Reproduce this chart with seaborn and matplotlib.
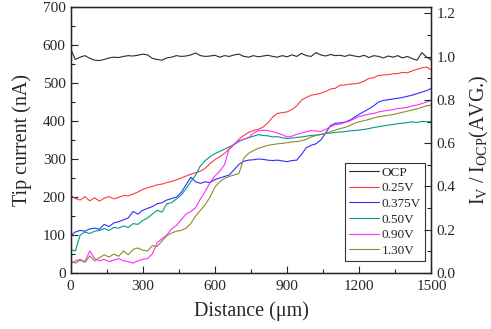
import numpy as np
import pandas as pd
import matplotlib
matplotlib.use("Agg")
import matplotlib.pyplot as plt
import seaborn as sns
from matplotlib.ticker import MultipleLocator

# Distance sampling (um)
distance = np.arange(0, 1501, 20)

# Tip current (nA)
ocp = [590, 562, 568, 572, 565, 560, 559, 562, 566, 568,
       567, 570, 572, 571, 573, 576, 574, 565, 562, 560,
       566, 568, 572, 570, 571, 574, 579, 572, 570, 571,
       573, 568, 572, 570, 574, 576, 570, 568, 572, 569,
       571, 573, 570, 568, 572, 569, 574, 570, 578, 572,
       570, 580, 574, 571, 575, 572, 573, 570, 574, 571,
       569, 573, 567, 572, 570, 566, 571, 568, 572, 566,
       570, 564, 560, 580, 568, 560]
v025 = [205, 196, 192, 201, 190, 198, 189, 197, 201, 195,
        199, 204, 203, 208, 213, 220, 224, 228, 232, 234,
        238, 241, 245, 250, 255, 260, 264, 268, 276, 288,
        298, 306, 315, 326, 338, 352, 362, 370, 375, 378,
        384, 395, 410, 420, 422, 424, 430, 440, 455, 462,
        468, 470, 473, 478, 484, 486, 494, 495, 497, 498,
        500, 505, 512, 514, 520, 521, 522, 524, 525, 528,
        527, 532, 536, 540, 542, 534]
v0375 = [98, 108, 112, 110, 116, 118, 115, 128, 122, 132,
         135, 140, 145, 162, 155, 165, 170, 175, 182, 185,
         192, 196, 200, 212, 232, 252, 240, 236, 240, 238,
         246, 250, 254, 258, 272, 286, 294, 297, 298, 300,
         299, 297, 296, 297, 295, 293, 296, 297, 312, 330,
         336, 340, 350, 368, 388, 394, 395, 397, 402, 410,
         418, 425, 432, 440, 450, 454, 456, 458, 460, 462,
         465, 468, 472, 476, 480, 486]
v050 = [62, 58, 100, 108, 104, 110, 112, 117, 112, 120,
        118, 124, 120, 130, 128, 138, 145, 155, 165, 160,
        182, 185, 195, 205, 222, 240, 258, 282, 296, 306,
        314, 320, 326, 332, 338, 346, 352, 356, 360, 364,
        362, 361, 358, 359, 356, 354, 355, 357, 358, 360,
        362, 363, 365, 368, 368, 370, 371, 372, 374, 375,
        376, 378, 380, 383, 385, 387, 389, 391, 393, 394,
        396, 398, 396, 399, 398, 398]
v090 = [25, 32, 36, 30, 58, 38, 32, 36, 30, 34,
        38, 32, 30, 26, 32, 36, 38, 50, 80, 90,
        100, 116, 125, 140, 155, 162, 172, 195, 215, 238,
        255, 268, 285, 328, 340, 348, 352, 356, 368, 374,
        376, 375, 372, 368, 364, 358, 360, 365, 368, 372,
        375, 374, 372, 378, 385, 390, 392, 396, 400, 406,
        412, 415, 418, 420, 424, 426, 428, 430, 433, 434,
        436, 440, 442, 446, 450, 455]
v130 = [30, 26, 34, 28, 45, 32, 40, 48, 42, 50,
        44, 58, 48, 62, 66, 60, 58, 72, 70, 84,
        98, 105, 110, 112, 118, 130, 150, 165, 180, 200,
        226, 240, 249, 254, 258, 262, 302, 315, 322, 328,
        332, 336, 338, 340, 341, 343, 345, 346, 348, 352,
        358, 362, 364, 367, 372, 376, 380, 383, 388, 394,
        398, 401, 404, 408, 411, 413, 415, 417, 420, 423,
        426, 429, 432, 436, 440, 442]

labels = ['OCP', '0.25V', '0.375V', '0.50V', '0.90V', '1.30V']
series = [ocp, v025, v0375, v050, v090, v130]
colors = ['#2b2b2b', '#ff3b3b', '#2f2fff', '#009b8c', '#ff2cff', '#8c8c28']

ocp_avg = 569.5  # normalisation for right axis

df = pd.concat([pd.DataFrame({'Distance': distance, 'Current': vals, 'Series': lab})
                for lab, vals in zip(labels, series)])

sns.set_style("ticks")
plt.rcParams['font.family'] = ['Liberation Serif', 'DejaVu Serif']
plt.rcParams['mathtext.fontset'] = 'custom'
plt.rcParams['mathtext.rm'] = 'Liberation Serif'
plt.rcParams['mathtext.it'] = 'Liberation Serif:italic'

fig = plt.figure(figsize=(4.91, 3.29), dpi=100)
ax = fig.add_axes([0.1436, 0.1702, 0.7352, 0.8085])

sns.lineplot(data=df, x='Distance', y='Current', hue='Series',
             palette=dict(zip(labels, colors)), linewidth=0.8, ax=ax)

ax.set_xlim(0, 1500)
ax.set_ylim(0, 700)
ax.xaxis.set_major_locator(MultipleLocator(300))
ax.xaxis.set_minor_locator(MultipleLocator(150))
ax.yaxis.set_major_locator(MultipleLocator(100))
ax.yaxis.set_minor_locator(MultipleLocator(50))
ax.set_xlabel('Distance (μm)', fontsize=14.5, labelpad=6)
ax.set_ylabel('Tip current (nA)', fontsize=14.5, labelpad=8)
ax.tick_params(which='major', direction='in', length=5, width=0.8, labelsize=11,
               top=False, right=False)
ax.tick_params(axis='x', which='major', pad=5)
ax.tick_params(which='minor', direction='in', length=3, width=0.8,
               top=False, right=False)
for s in ax.spines.values():
    s.set_linewidth(1.0)
    s.set_color('black')

ax2 = ax.twinx()
ax2.set_ylim(0, 700 / ocp_avg)
ax2.yaxis.set_major_locator(MultipleLocator(0.2))
ax2.yaxis.set_minor_locator(MultipleLocator(0.1))
ax2.yaxis.set_major_formatter(matplotlib.ticker.FormatStrFormatter('%.1f'))
ax2.tick_params(which='major', direction='in', length=5, width=0.8, labelsize=11)
ax2.tick_params(which='minor', direction='in', length=3, width=0.8)
ax2.set_ylabel(r'$\mathregular{I_V\ /\ I_{OCP}}$(AVG.)', fontsize=14.5, labelpad=9)

handles, labs = ax.get_legend_handles_labels()
leg = ax.legend(handles, labs, loc='lower right', bbox_to_anchor=(0.982, 0.045),
                borderaxespad=0, fontsize=9.5, frameon=True, fancybox=False,
                handlelength=2.3, handletextpad=0.2, labelspacing=0.26,
                borderpad=0.3)
leg.get_frame().set_edgecolor('black')
leg.get_frame().set_linewidth(0.8)

fig.savefig('out.png', dpi=100)
